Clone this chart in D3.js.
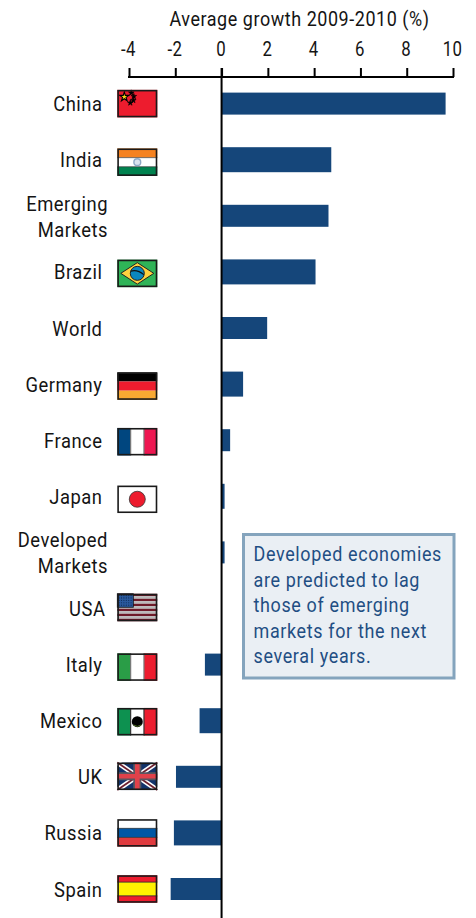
<!DOCTYPE html>
<html>
<head>
<meta charset="utf-8">
<script src="https://cdn.jsdelivr.net/npm/d3@7"></script>
<style>
  html, body { margin: 0; padding: 0; background: #fff; }
  svg { display: block; }
  text { font-family: "Roboto", "Liberation Sans", sans-serif; }
</style>
</head>
<body>
<svg id="chart" width="476" height="918"></svg>
<script>
// Average growth by economy, 2009-2010 (%)
const categories = ["China", "India", "Emerging Markets", "Brazil", "World", "Germany", "France",
  "Japan", "Developed Markets", "USA", "Italy", "Mexico", "UK", "Russia", "Spain"];
const growth = [9.68, 4.74, 4.62, 4.06, 1.97, 0.93, 0.37, 0.13, 0.13, 0, -0.72, -0.95, -1.97, -2.06, -2.2];
const axisTicks = [-4, -2, 0, 2, 4, 6, 8, 10];
const axisTitle = "Average growth 2009-2010 (%)";
const noteLines = ["Developed economies", "are predicted to lag", "those of emerging",
  "markets for the next", "several years."];
const thickBars = ["India", "Brazil", "Germany", "Japan", "Mexico", "Russia"];

// Flag field colours per country: stripes run along the named direction.
const flagStripes = {
  China: { dir: "h", colors: ["#ed1c2e"] },
  India: { dir: "h", colors: ["#f58220", "#ffffff", "#00824f"] },
  Brazil: { dir: "h", colors: ["#2fb457"] },
  Germany: { dir: "h", colors: ["#000000", "#ed1c2e", "#f9a932"] },
  France: { dir: "v", colors: ["#00467f", "#ffffff", "#ee1651"] },
  Japan: { dir: "h", colors: ["#ffffff"] },
  USA: { dir: "h", colors: ["#6f1a28", "#b9b9b9", "#6f1a28", "#b9b9b9", "#6f1a28", "#b9b9b9", "#6f1a28", "#b9b9b9", "#6f1a28", "#b9b9b9", "#6f1a28"] },
  Italy: { dir: "v", colors: ["#2a9d47", "#ffffff", "#ed1c2e"] },
  Mexico: { dir: "v", colors: ["#0d9150", "#ffffff", "#ed1c2e"] },
  UK: { dir: "h", colors: ["#12336b"] },
  Russia: { dir: "h", colors: ["#ffffff", "#0057a5", "#e03a3e"] },
  Spain: { dir: "h", colors: ["#ed1c2e", "#fff200", "#ed1c2e"], weights: [1, 2, 1] }
};

const ink = "#141414";
const barBlue = "#15467a";
const squeeze = 0.875; // horizontal condensing applied to all text
const svg = d3.select("#chart");

const x = d3.scaleLinear().domain([-4, 10]).range([129, 453]);
const y = d3.scalePoint().domain(categories).range([103.6, 889]);

// Places a condensed text at (px, py)
const placed = (sel, px, py) => sel.attr("transform", `translate(${px},${py}) scale(${squeeze},1)`);

// Bars
const thick = new Set(thickBars);
const barH = d => thick.has(d.name) ? 25 : 22;
const rows = categories.map((name, i) => ({ name, value: growth[i] }));
svg.append("g").selectAll("rect").data(rows.filter(d => d.value !== 0)).join("rect")
  .attr("x", d => x(Math.min(0, d.value)))
  .attr("width", d => Math.abs(x(d.value) - x(0)))
  .attr("y", d => y(d.name) - barH(d) / 2)
  .attr("height", barH)
  .attr("fill", barBlue);

// Top axis
const axis = d3.axisTop(x).tickValues(axisTicks).tickSize(9).tickPadding(12).tickFormat(d3.format("d"));
const axisG = svg.append("g").attr("transform", "translate(0,77)").call(axis);
axisG.select(".domain").attr("stroke", "#000").attr("stroke-width", 2).attr("d", `M${x(-4) - 1},0H${x(10) + 1}`);
axisG.selectAll(".tick line").attr("stroke", "#000").attr("stroke-width", 2);
axisG.selectAll(".tick text").attr("fill", ink).attr("font-size", 20)
  .attr("font-family", null).attr("transform", "translate(-1,0) scale(0.84,1)")
  .attr("letter-spacing", 0.4).text(d => String(d).replace("\u2212", "-"));

svg.append("text").attr("text-anchor", "middle").call(placed, 299.5, 25.5)
  .attr("font-size", 20.5).attr("letter-spacing", 0.65).attr("fill", ink).text(axisTitle);

// Zero line
svg.append("line").attr("x1", x(0)).attr("x2", x(0)).attr("y1", 68).attr("y2", 918)
  .attr("stroke", "#000").attr("stroke-width", 2);

// Row labels; the two-word aggregates wrap onto two lines
const labels = svg.append("g").attr("fill", ink).attr("font-size", 21).attr("letter-spacing", 0.6);
rows.forEach(d => {
  const words = d.name.split(" ");
  if (words.length > 1) {
    words.forEach((w, i) => labels.append("text").attr("text-anchor", "end")
      .call(placed, 108, y(d.name) - 5 + i * 26).text(w));
  } else {
    labels.append("text").attr("text-anchor", "end")
      .call(placed, d.name === "USA" ? 105.5 : 102.5, y(d.name) + 7.5).text(d.name);
  }
});

// Flags
const flagW = 40, flagH = 27.5, flagX = 117.3;
const flagNudge = { India: 2.5, Brazil: 1.5, Germany: 2, France: 1.5, Japan: 3, USA: -1, Italy: 2.5, Mexico: 1, UK: -0.5 };
const starPath = d3.symbol().type(d3.symbolStar);

function drawFlag(name) {
  const spec = flagStripes[name];
  const g = svg.append("g")
    .attr("transform", `translate(${flagX},${y(name) - flagH / 2 + (flagNudge[name] || 0)})`);
  const weights = spec.weights || spec.colors.map(() => 1);
  const total = d3.sum(weights);
  const along = spec.dir === "h" ? flagH : flagW;
  let offset = 0;
  spec.colors.forEach((c, i) => {
    const len = along * weights[i] / total;
    g.append("rect").attr("fill", c)
      .attr("x", spec.dir === "v" ? offset : 0).attr("y", spec.dir === "h" ? offset : 0)
      .attr("width", spec.dir === "v" ? len : flagW).attr("height", spec.dir === "h" ? len : flagH);
    offset += len;
  });
  const extras = flagExtras[name];
  if (extras) extras(g);
  g.append("rect").attr("x", 0.8).attr("y", 0.8).attr("width", flagW - 1.6).attr("height", flagH - 1.6)
    .attr("fill", "none").attr("stroke", "#1a1a1a").attr("stroke-width", 1.6);
}

const separators = color => g => [flagW / 3, 2 * flagW / 3].forEach(px =>
  g.append("line").attr("x1", px).attr("x2", px).attr("y1", 0).attr("y2", flagH)
    .attr("stroke", color).attr("stroke-width", 1.2));

const hairlines = (levels, color, width) => g => levels.forEach(py =>
  g.append("line").attr("x1", 0).attr("x2", flagW).attr("y1", py).attr("y2", py)
    .attr("stroke", color).attr("stroke-width", width));

const flagExtras = {
  China: g => {
    g.append("path").attr("d", starPath.size(26)()).attr("transform", "translate(7,7)")
      .attr("fill", "#f7d417").attr("stroke", "#000").attr("stroke-width", 1.1);
    [[14, 3], [16.5, 6.5], [16, 10.5], [13, 13]].forEach(p =>
      g.append("path").attr("d", starPath.size(10)()).attr("transform", `translate(${p})`)
        .attr("fill", "#000").attr("stroke", "#000").attr("stroke-width", 0.6));
  },
  India: g => {
    hairlines([9.2, 18.3], "#333", 0.7)(g);
    g.append("circle").attr("cx", 20).attr("cy", 13.7).attr("r", 3.4)
      .attr("fill", "#d9e3ee").attr("stroke", "#8fa9c6").attr("stroke-width", 1.4);
  },
  Brazil: g => {
    g.append("path").attr("d", "M3.5,13.7L20,3L36.5,13.7L20,24.5Z")
      .attr("fill", "#ffd23f").attr("stroke", "#222").attr("stroke-width", 1);
    g.append("circle").attr("cx", 20).attr("cy", 13.7).attr("r", 7)
      .attr("fill", "#0b87bf").attr("stroke", "#222").attr("stroke-width", 1);
    g.append("path").attr("d", "M13.5,11.5Q20,9.5 26.5,15").attr("fill", "none")
      .attr("stroke", "#111").attr("stroke-width", 1.1);
  },
  France: separators("#777"),
  Japan: g => g.append("circle").attr("cx", 20).attr("cy", 13.7).attr("r", 8)
    .attr("fill", "#ed1c2e").attr("stroke", "#333").attr("stroke-width", 0.8),
  USA: g => {
    g.append("rect").attr("width", 16).attr("height", 13.5).attr("fill", "#2b5a9e")
      .attr("stroke", "#111").attr("stroke-width", 0.8);
    d3.range(1.8, 13, 2.4).forEach(py => d3.range(1.8, 16, 2.4).forEach(px =>
      g.append("circle").attr("cx", px).attr("cy", py).attr("r", 0.6).attr("fill", "#0f2a55")));
  },
  Italy: separators("#777"),
  Mexico: g => {
    separators("#333")(g);
    g.append("circle").attr("cx", 20).attr("cy", 13.7).attr("r", 5.5).attr("fill", "#000");
    g.append("path").attr("d", "M16,17Q20,20 24,17").attr("fill", "none").attr("stroke", "#5a7f2a").attr("stroke-width", 0.9);
  },
  UK: g => {
    ["M0,0L40,27.5", "M40,0L0,27.5"].forEach(d => {
      g.append("path").attr("d", d).attr("stroke", "#fff").attr("stroke-width", 5);
      g.append("path").attr("d", d).attr("stroke", "#6c1f2e").attr("stroke-width", 1.8);
    });
    g.append("path").attr("d", "M20,0V27.5M0,13.7H40").attr("stroke", "#5a5560").attr("stroke-width", 8);
    g.append("path").attr("d", "M20,0V27.5M0,13.7H40").attr("stroke", "#e0414a").attr("stroke-width", 4.6);
  },
  Russia: hairlines([9.2, 18.3], "#222", 0.7),
  Spain: hairlines([6.9, 20.6], "#222", 0.8)
};

Object.keys(flagStripes).forEach(drawFlag);

// Callout
const note = svg.append("g");
note.append("rect").attr("x", 243.5).attr("y", 534.5).attr("width", 210.5).attr("height", 143.5)
  .attr("fill", "#eaeff4").attr("stroke", "#84a4bd").attr("stroke-width", 3);
note.selectAll("text").data(noteLines).join("text")
  .each(function (d, i) { placed(d3.select(this), 253.5, 561 + i * 25.6); })
  .attr("font-size", 20.5).attr("letter-spacing", 0.75).attr("fill", "#1f4e83").text(d => d);
</script>
</body>
</html>
